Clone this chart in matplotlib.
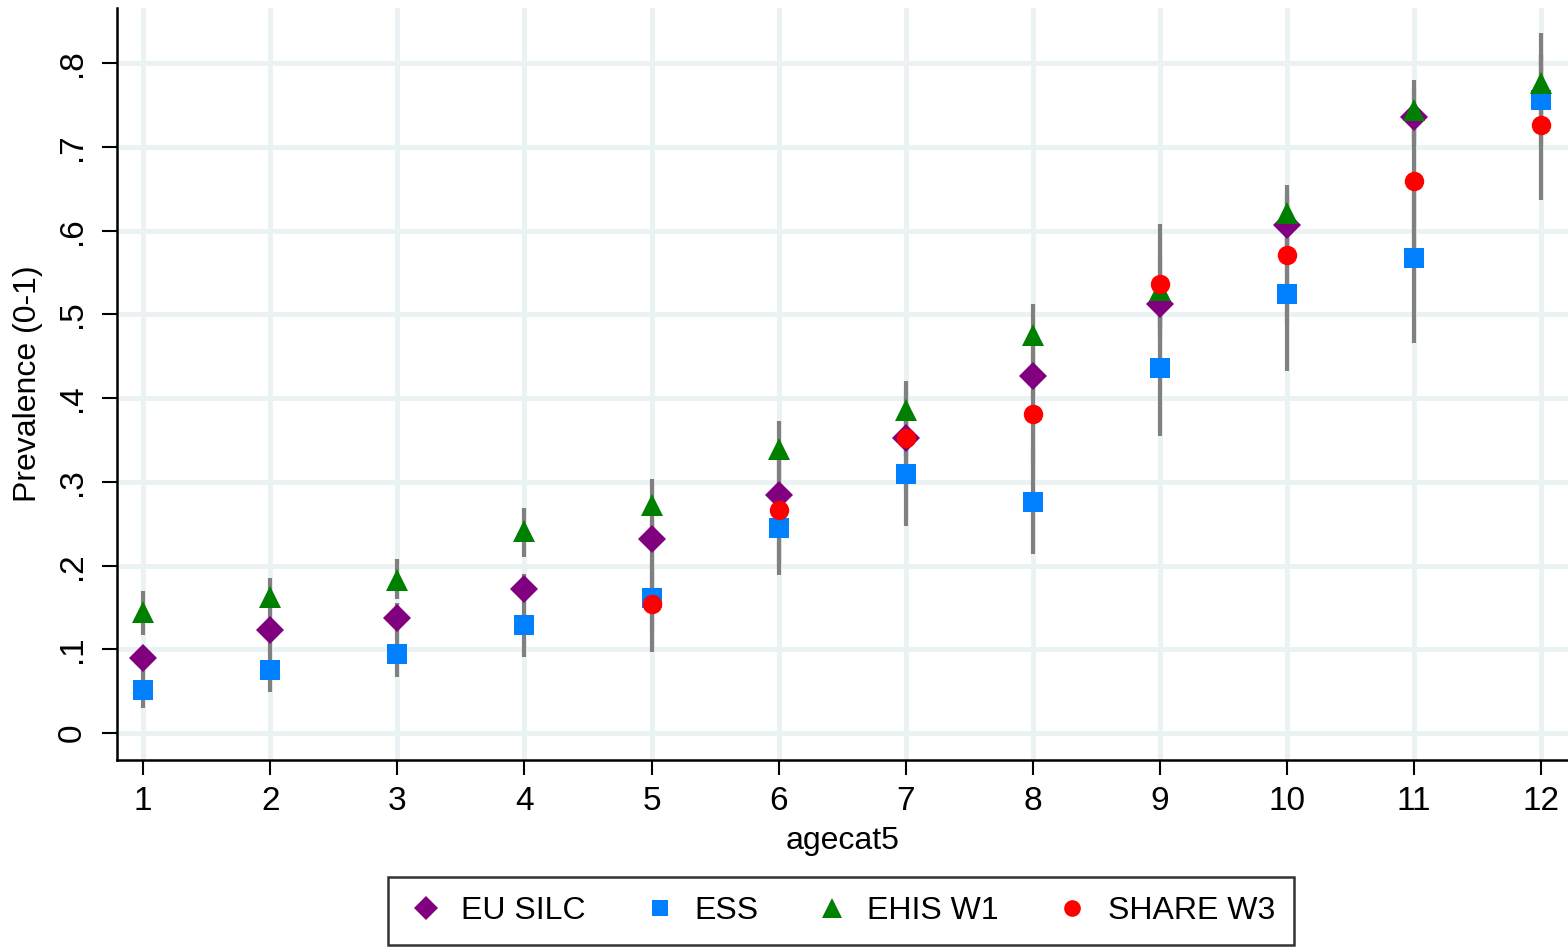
import matplotlib
matplotlib.use("Agg")
import matplotlib.pyplot as plt
from matplotlib.lines import Line2D

plt.rcParams['font.family'] = ['Liberation Sans', 'DejaVu Sans']

# ---- data ----
agecat = list(range(1, 13))
series_names = ["EU SILC", "ESS", "EHIS W1", "SHARE W3"]

eu_x = list(range(1, 12))
eu_y = [0.090, 0.123, 0.137, 0.172, 0.232, 0.285, 0.352, 0.427, 0.512, 0.607, 0.736]
eu_lo = [0.080, 0.105, 0.120, 0.155, 0.210, 0.260, 0.330, 0.400, 0.480, 0.570, 0.700]
eu_hi = [0.100, 0.140, 0.155, 0.190, 0.255, 0.310, 0.375, 0.455, 0.545, 0.640, 0.770]

ess_x = list(range(1, 13))
ess_y = [0.051, 0.076, 0.095, 0.129, 0.161, 0.245, 0.310, 0.276, 0.436, 0.525, 0.567, 0.756]
ess_lo = [0.030, 0.049, 0.067, 0.091, 0.120, 0.200, 0.247, 0.214, 0.355, 0.433, 0.466, 0.700]
ess_hi = [0.088, 0.105, 0.125, 0.168, 0.200, 0.290, 0.370, 0.340, 0.515, 0.615, 0.665, 0.810]

ehis_x = list(range(1, 13))
ehis_y = [0.145, 0.163, 0.183, 0.241, 0.272, 0.339, 0.386, 0.476, 0.529, 0.621, 0.744, 0.776]
ehis_lo = [0.117, 0.140, 0.160, 0.210, 0.245, 0.310, 0.355, 0.440, 0.490, 0.585, 0.710, 0.740]
ehis_hi = [0.170, 0.185, 0.208, 0.269, 0.303, 0.373, 0.421, 0.513, 0.570, 0.655, 0.780, 0.810]

share_x = list(range(5, 13))
share_y = [0.154, 0.267, 0.352, 0.381, 0.537, 0.571, 0.660, 0.726]
share_lo = [0.097, 0.189, 0.290, 0.320, 0.470, 0.490, 0.570, 0.637]
share_hi = [0.210, 0.345, 0.410, 0.440, 0.608, 0.645, 0.750, 0.836]

yticks = [0, 0.1, 0.2, 0.3, 0.4, 0.5, 0.6, 0.7, 0.8]
ytick_labels = ["0", ".1", ".2", ".3", ".4", ".5", ".6", ".7", ".8"]

# ---- styling ----
colors = ["#800080", "#0080FF", "#008000", "#FF0000"]
markers = ["D", "s", "^", "o"]
msizes = [14, 14, 16, 14]
bar_color = "#808080"
grid_color = "#EAF2F3"

fig = plt.figure(figsize=(15.68, 9.47), dpi=100)
ax = fig.add_axes([117/1568, 1 - 760/947, 1 - 117/1568, (760 - 8)/947])

ax.set_xlim(0.795, 12.21)
ax.set_ylim(-0.032, 0.866)

data = [
    (eu_x, eu_y, eu_lo, eu_hi),
    (ess_x, ess_y, ess_lo, ess_hi),
    (ehis_x, ehis_y, ehis_lo, ehis_hi),
    (share_x, share_y, share_lo, share_hi),
]

for (xs, ys, lo, hi) in data:
    ax.vlines(xs, lo, hi, color=bar_color, lw=3, zorder=3)

for i, (xs, ys, lo, hi) in enumerate(data):
    ax.plot(xs, ys, linestyle="none", marker=markers[i], color=colors[i],
            markersize=msizes[i], markeredgewidth=0, zorder=4 + i)

# grid
ax.set_xticks(agecat)
ax.set_xticklabels([str(a) for a in agecat])
ax.set_yticks(yticks)
ax.set_yticklabels(ytick_labels, rotation=90, va="center")
ax.grid(True, color=grid_color, lw=3.5, zorder=0)
ax.set_axisbelow(True)

for s in ["top", "right"]:
    ax.spines[s].set_visible(False)
for s in ["left", "bottom"]:
    ax.spines[s].set_linewidth(1.8)
    ax.spines[s].set_color("black")

ax.tick_params(axis="both", which="major", length=11, width=1.5, labelsize=24, color="black")
ax.tick_params(axis="y", pad=10)
ax.tick_params(axis="x", pad=8)

ax.set_xlabel("agecat5", fontsize=23, labelpad=6)
ax.set_ylabel("Prevalence (0-1)", fontsize=23, labelpad=10)

handles = [Line2D([], [], linestyle="none", marker=markers[i], color=colors[i],
                  markersize=msizes[i] - 2, markeredgewidth=0) for i in range(4)]
leg = fig.legend(handles, series_names, loc="center", ncol=4,
                 bbox_to_anchor=(841/1568, 1 - 911/947), fontsize=23,
                 frameon=True, fancybox=False, edgecolor="black",
                 handletextpad=0.5, columnspacing=1.7, borderpad=0.6,
                 handlelength=1.2)
leg.get_frame().set_linewidth(1.8)

fig.savefig("out.png", dpi=100)
